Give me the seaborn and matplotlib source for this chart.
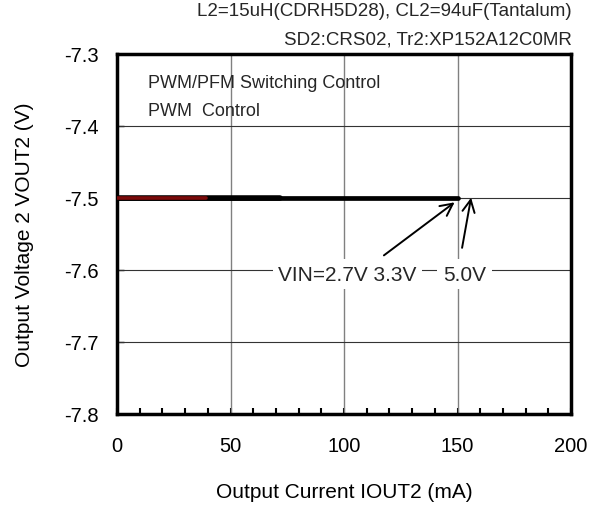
import matplotlib
matplotlib.use("Agg")
import matplotlib.pyplot as plt
import seaborn as sns
import pandas as pd
from matplotlib.ticker import MultipleLocator

sns.set_theme(style="white")
plt.rcParams['font.family'] = ['Liberation Sans', 'DejaVu Sans']

# Data
vin_labels = ["2.7V", "3.3V", "5.0V"]
iout_27 = [0, 39]
vout_27 = [-7.5, -7.5]
iout_33 = [0, 72]
vout_33 = [-7.5, -7.5]
iout_50 = [0, 150]
vout_50 = [-7.5, -7.5]
x_ticks = [0, 50, 100, 150, 200]
y_ticks = [-7.8, -7.7, -7.6, -7.5, -7.4, -7.3]

df = pd.concat([
    pd.DataFrame({"IOUT": iout_50, "VOUT": vout_50, "VIN": "5.0V"}),
    pd.DataFrame({"IOUT": iout_33, "VOUT": vout_33, "VIN": "3.3V"}),
    pd.DataFrame({"IOUT": iout_27, "VOUT": vout_27, "VIN": "2.7V"}),
])

fig = plt.figure(figsize=(5.98, 5.06), dpi=100)
ax = fig.add_axes([117/598, 1-415/506, (571-117)/598, (415-55)/506])

palette = {"5.0V": "black", "3.3V": "black", "2.7V": "#7a0a0a"}
sizes = {"5.0V": 3.4, "3.3V": 4.0, "2.7V": 2.6}
sns.lineplot(data=df, x="IOUT", y="VOUT", hue="VIN", size="VIN", sizes=sizes,
             palette=palette, ax=ax, legend=False, estimator=None, sort=False, zorder=3)

ax.set_xlim(0, 200)
ax.set_ylim(-7.8, -7.3)
ax.set_xticks(x_ticks)
ax.set_yticks(y_ticks)
ax.set_yticklabels([f"{v:.1f}" for v in y_ticks])
ax.xaxis.set_minor_locator(MultipleLocator(10))
ax.tick_params(axis='x', which='both', direction='in', length=4, width=1.5, bottom=True,
               labelsize=14.5, pad=16, colors='black')
ax.tick_params(axis='y', which='major', direction='in', length=5, width=1, left=True,
               labelsize=14.5, pad=13, colors='black')

for x in x_ticks[1:-1]:
    ax.axvline(x, color='#808080', lw=1, zorder=1)
for y in y_ticks[1:-1]:
    ax.axhline(y, color='#333333', lw=0.8, zorder=1)

for s in ax.spines.values():
    s.set_color('black')
    s.set_linewidth(2.5)

ax.set_xlabel("Output Current IOUT2 (mA)", fontsize=15, labelpad=19, color='black')
ax.set_ylabel("Output Voltage 2 VOUT2 (V)", fontsize=15, labelpad=22, color='black')

fig.text(572/598, 1-11/506, "L2=15uH(CDRH5D28), CL2=94uF(Tantalum)", ha='right', va='center', fontsize=13.5)
fig.text(572/598, 1-40/506, "SD2:CRS02, Tr2:XP152A12C0MR", ha='right', va='center', fontsize=13.5)

ax.text(13.7, -7.3389, "PWM/PFM Switching Control", fontsize=13, va='center', ha='left')
ax.text(13.7, -7.379, "PWM  Control", fontsize=13, va='center', ha='left')

bbox = dict(facecolor='white', edgecolor='none', pad=4)
ax.text(101.5, -7.6056, "VIN=2.7V " + vin_labels[1], fontsize=15, ha='center', va='center', bbox=bbox, zorder=4)
ax.text(153.1, -7.6056, vin_labels[2], fontsize=15, ha='center', va='center', bbox=bbox, zorder=4)

ax.annotate("", xy=(149.7, -7.5037), xytext=(116.6, -7.582),
            arrowprops=dict(arrowstyle='->', color='black', lw=1.4, mutation_scale=22), zorder=5)
ax.annotate("", xy=(156.2, -7.4958), xytext=(151.8, -7.573),
            arrowprops=dict(arrowstyle='->', color='black', lw=1.4, mutation_scale=22), zorder=5)

fig.savefig("out.png", dpi=100, facecolor='white')
